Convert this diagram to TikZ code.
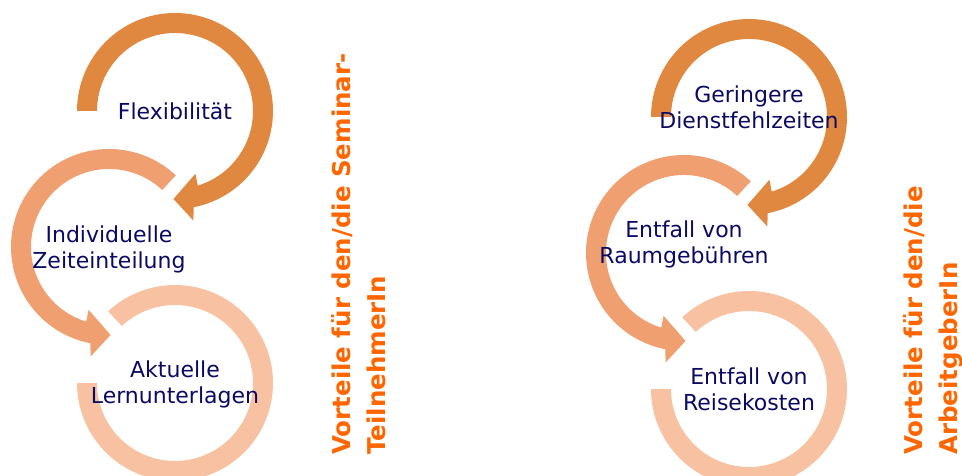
\documentclass[tikz,border=0pt]{standalone}
\usepackage{fontspec}
\setmainfont{DejaVu Sans}
\usepackage{tikz}
\usetikzlibrary{calc}

\definecolor{ringdark}{HTML}{E0883F}
\definecolor{ringmid}{HTML}{F0A070}
\definecolor{ringlight}{HTML}{F8C2A2}
\definecolor{itemtext}{HTML}{0A0A64}
\definecolor{sidetext}{HTML}{FF6600}

\tikzset{
    ring cw/.pic={
            \fill [pic actions] (180:98) arc[start angle=180, end angle=-79, radius=98]
            -- (-80.5:111) -- (-91:88) -- (-72:66) -- (-73:78)
            arc[start angle=-73, end angle=180, radius=78] -- cycle;
        },
    ring ccw/.pic={
            \fill [pic actions] (47:98) arc[start angle=47, end angle=259, radius=98]
            -- (260.5:111) -- (271:88) -- (252:66) -- (253:78)
            arc[start angle=253, end angle=47, radius=78] -- cycle;
        },
    ring open/.pic={
            \fill [pic actions] (180:98) arc[start angle=180, end angle=493, radius=98]
            -- (133:78) arc[start angle=133, end angle=-180, radius=78] -- cycle;
        },
    item/.style={align=center, text=itemtext, inner sep=0pt,
            font=\fontsize{22pt}{26pt}\selectfont},
    side/.style={rotate=90, anchor=base west, align=left, inner sep=0pt,
            text=sidetext, font=\bfseries\fontsize{24.5pt}{35pt}\selectfont},
}

\begin{document}
\begin{tikzpicture}[x=1pt,y=1pt]

    \useasboundingbox (0,0) rectangle (962,475);
    \clip (0,0) rectangle (962,475);

    \coordinate (L1) at (175,364);
    \coordinate (L2) at (109,228);
    \coordinate (L3) at (175,92);
    \coordinate (R1) at (749,358);
    \coordinate (R2) at (684,222);
    \coordinate (R3) at (749,86);

    % Seminar-TeilnehmerIn
    \pic [fill=ringlight] at (L3) {ring open};
    \pic [fill=ringmid] at (L2) {ring ccw};
    \pic [fill=ringdark] at (L1) {ring cw};
    \node [item] (flex) at (L1) {Flexibilität};
    \node [item] (zeit) at ([yshift=-2]L2) {Individuelle\\Zeiteinteilung};
    \node [item] (lern) at ([yshift=-1]L3) {Aktuelle\\Lernunterlagen};
    \node [side] (teiln) at (385,20) {Vorteile für den/die Seminar-\\TeilnehmerIn};

    % ArbeitgeberIn
    \pic [fill=ringlight] at (R3) {ring open};
    \pic [fill=ringmid] at (R2) {ring ccw};
    \pic [fill=ringdark] at (R1) {ring cw};
    \node [item] (dienst) at ([yshift=10]R1) {Geringere\\Dienstfehlzeiten};
    \node [item] (raum) at ([yshift=9]R2) {Entfall von\\Raumgebühren};
    \node [item] (reise) at (R3) {Entfall von\\Reisekosten};
    \node [side] (arbg) at (957,20) {Vorteile für den/die\\ArbeitgeberIn};

\end{tikzpicture}
\end{document}
